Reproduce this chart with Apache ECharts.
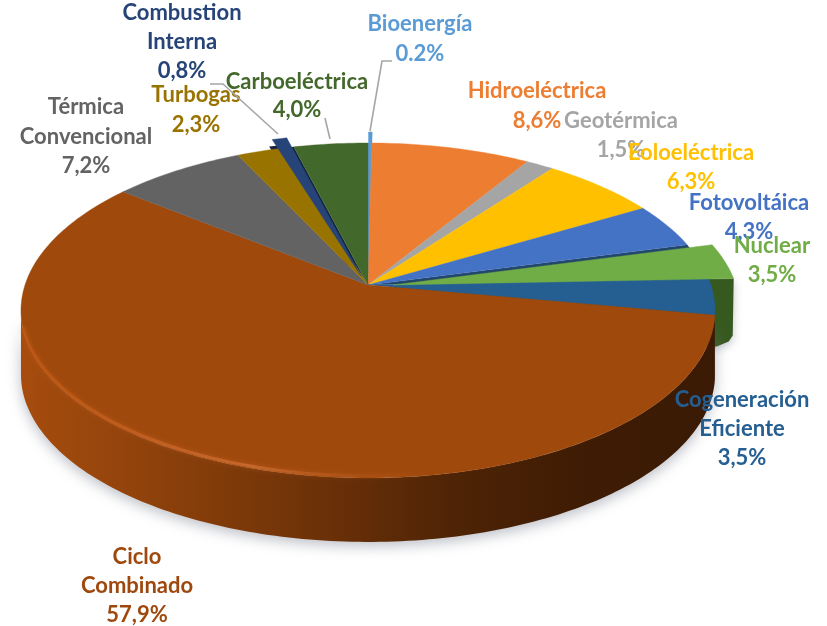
<!DOCTYPE html>
<html>
<head>
<meta charset="utf-8">
<style>html,body{margin:0;padding:0;background:#fff}#c{width:827px;height:626px}</style>
<script src="https://cdn.jsdelivr.net/npm/echarts@6/dist/echarts.min.js"></script>
</head>
<body>
<div id="c"></div>
<script>
// ---- data ----
var categories = ['Bioenergía','Hidroeléctrica','Geotérmica','Eoloeléctrica','Fotovoltáica','Nuclear','Cogeneración Eficiente','Ciclo Combinado','Térmica Convencional','Turbogas','Combustion Interna','Carboeléctrica'];
var shares = [0.2,8.6,1.5,6.3,4.3,3.5,3.5,57.9,7.2,2.3,0.8,4.0];
var shareLabels = ['0.2%','8,6%','1,5%','6,3%','4,3%','3,5%','3,5%','57,9%','7,2%','2,3%','0,8%','4,0%'];

// ---- style and layout (not data) ----
var faceColors = ['#5B9BD5','#ED7D31','#A5A5A5','#FFC000','#4472C4','#70AD47','#255E91','#A0490C','#636363','#997300','#264478','#43682B'];
var textColors = ['#5B9BD5','#ED7D31','#A5A5A5','#FFC000','#4472C4','#70AD47','#255E91','#9E480E','#636363','#997300','#264478','#43682B'];
var holeColors = {0:'#5B9BD5',5:'#23466B',10:'#14233F'};
var labelLines = [['Bioenergía'],['Hidroeléctrica'],['Geotérmica'],['Eoloeléctrica'],['Fotovoltáica'],['Nuclear'],['Cogeneración','Eficiente'],['Ciclo','Combinado'],['Térmica','Convencional'],['Turbogas'],['Combustion','Interna'],['Carboeléctrica']];
var labelAnchors = [[420,24],[537,91],[621,121],[691,153],[749,203],[772,246],[742,400],[137,557],[86,107],[196,95],[182,13],[297,82]];
var labelSteps = [30,30,29,29,29,29,29,29,29.5,30,29,28];
var explode = {0:[0.5,-11],5:[25,0],10:[-7,-9]};
var leaders = {
  0:[[392,61],[382,61],[370,131]],
  10:[[210,84],[223,84],[278,134]],
  11:[[325,118],[330,139]]
};
var apexX = 368, apexY = 285, scaleX = 343, scaleY = 163.6, persp = 0.152, wallH = 64;
var frontFrom = 98.7, frontTo = 261.3;

var total = shares.reduce(function(a,b){return a+b;},0);
var cum = [0];
shares.forEach(function(s,i){cum.push(cum[i]+s);});
function ang(k){return cum[k]/total*360;}

function proj(deg,dx,dy){
  var t = deg*Math.PI/180, u = Math.sin(t), v = -Math.cos(t), d = 1-persp*v;
  return [apexX+scaleX*u/d+(dx||0), apexY+scaleY*v/d+(dy||0)];
}
function arc(a,b,dx,dy){
  var n = Math.max(2,Math.ceil(Math.abs(b-a)/1)), p=[];
  for(var i=0;i<=n;i++){p.push(proj(a+(b-a)*i/n,dx,dy));}
  return p;
}

var wallGrad = new echarts.graphic.LinearGradient(0,0,1,0,[
  {offset:0,color:'#A64C0E'},{offset:0.18,color:'#8F420B'},{offset:0.42,color:'#6E3208'},
  {offset:0.62,color:'#4F2406'},{offset:0.8,color:'#3F1C04'},{offset:1,color:'#3A1A04'}],true);
wallGrad.x=21;wallGrad.x2=715;wallGrad.y=0;wallGrad.y2=0;wallGrad.global=true;

function renderWall(params){
  var i = params.dataIndex, children=[];
  var a=ang(i), b=ang(i+1), e=explode[i]||[0,0];
  if(i===5){ // exploded slice: its radial face shows beyond the rim
    var o=proj(b,e[0],e[1]);
    children.push({type:'polygon',shape:{points:[[apexX+e[0],apexY],o,[o[0]-1,o[1]+wallH-7],[o[0]-5,o[1]+wallH-1],[o[0]-17,o[1]+wallH+4],[apexX+e[0],apexY+wallH]]},
      style:{fill:'#36591F',shadowBlur:8,shadowColor:'rgba(120,125,140,0.45)',shadowOffsetY:3}});
  }
  var s=Math.max(a,frontFrom), t=Math.min(b,frontTo);
  if(t>s){
    var top=arc(s,t), bottom=arc(t,s,0,wallH);
    children.push({type:'polygon',shape:{points:top.concat(bottom)},
      style:{fill:i===7?wallGrad:'#1D4468',shadowBlur:i===7?14:0,shadowColor:'rgba(120,125,140,0.5)',shadowOffsetY:4}});
  }
  return {type:'group',children:children};
}

function renderFace(params){
  var i = params.dataIndex, a=ang(i), b=ang(i+1), e=explode[i]||[0,0], children=[];
  var pts=[[apexX+e[0],apexY+e[1]]].concat(arc(a,b,e[0],e[1]));
  if(holeColors[i]){
    children.push({type:'polygon',shape:{points:[[apexX,apexY]].concat(arc(a,b))},style:{fill:holeColors[i]}});
  }
  if(i===10){
    children.push({type:'polygon',shape:{points:pts.map(function(p){return [p[0]-3,p[1]+7];})},style:{fill:'#14233F'}});
  }
  children.push({type:'polygon',z2:i===5?5:1,shape:{points:pts},style:{fill:faceColors[i],stroke:faceColors[i],lineWidth:0.4}});
  if(i===7){ // highlight of the rim
    var g=new echarts.graphic.LinearGradient(0,0,1,0,[
      {offset:0,color:'rgba(195,88,18,0.7)'},{offset:0.55,color:'rgba(205,110,50,0.8)'},{offset:1,color:'rgba(170,75,14,0)'}],true);
    g.x=21;g.x2=440;g.y=0;g.y2=0;g.global=true;
    children.push({type:'polyline',z2:2,shape:{points:arc(255,172,0,-2)},
      style:{fill:null,stroke:g,lineWidth:3,shadowBlur:5,shadowColor:'rgba(205,100,40,0.6)'}});
  }
  return {type:'group',children:children};
}

function renderLabel(params){
  var i=params.dataIndex, children=[], an=labelAnchors[i], st=labelSteps[i];
  if(leaders[i]){
    children.push({type:'polyline',shape:{points:leaders[i]},style:{fill:null,stroke:'#A6A6A6',lineWidth:1.6}});
  }
  labelLines[i].concat([shareLabels[i]]).forEach(function(txt,k){
    children.push({type:'text',x:an[0],y:an[1]+k*st,style:{text:txt,fill:textColors[i],
      font:'bold 22px Lato, "Open Sans", sans-serif',align:'center',verticalAlign:'middle'}});
  });
  return {type:'group',children:children};
}

var rows = categories.map(function(c,i){return {name:c,value:[shares[i]]};});
var chart = echarts.init(document.getElementById('c'),null,{renderer:'canvas'});
chart.setOption({
  animation:false,
  backgroundColor:'#fff',
  series:[
    {type:'custom',coordinateSystem:'none',z:1,data:rows,renderItem:renderWall,silent:true},
    {type:'custom',coordinateSystem:'none',z:2,data:rows,renderItem:renderFace,silent:true},
    {type:'custom',coordinateSystem:'none',z:3,data:rows,renderItem:renderLabel,silent:true}
  ]
});
</script>
</body>
</html>
